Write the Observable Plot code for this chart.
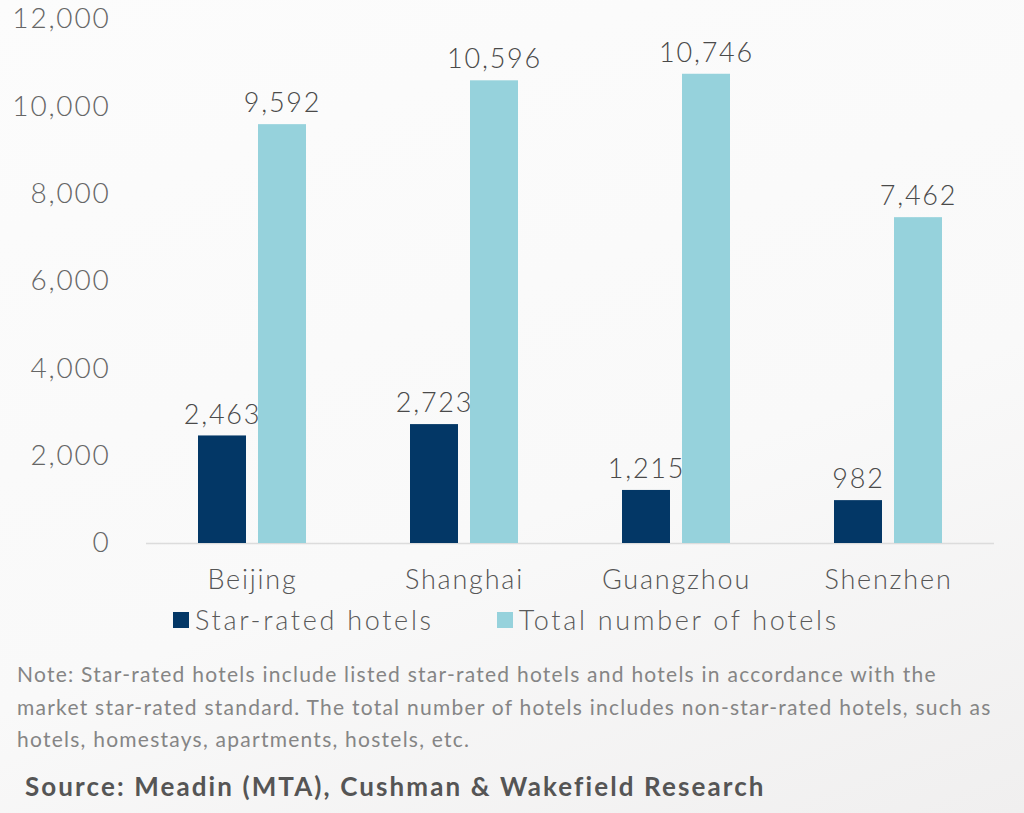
<!DOCTYPE html>
<html>
<head>
<meta charset="utf-8">
<script src="https://cdn.jsdelivr.net/npm/d3@7"></script>
<script src="https://cdn.jsdelivr.net/npm/@observablehq/plot@0.6"></script>
<style>
  html, body { margin: 0; padding: 0; }
  body {
    width: 1024px; height: 813px; overflow: hidden;
    background: linear-gradient(160deg, #fcfcfc 0%, #f9f9f9 60%, #f0efef 100%);
    font-family: Lato, "Open Sans", sans-serif;
  }
  #chart svg { display: block; background: transparent; }
  .legend { position: absolute; top: 603px; left: 173px; font-size: 27px; font-weight: 300; letter-spacing: 2.7px; color: #5a5a5a; display: flex; align-items: center; }
  .legend .item { display: flex; align-items: center; margin-right: 63px; }
  .legend .sw { width: 16px; height: 16px; margin-right: 6px; }
  .note { position: absolute; top: 658px; left: 17px; width: 1000px; font-size: 21px; line-height: 32.5px; letter-spacing: 1.25px; color: #858585; white-space: nowrap; }
  .source { position: absolute; top: 770px; left: 25px; font-size: 26px; font-weight: bold; letter-spacing: 2.1px; color: #555; }
</style>
</head>
<body>
<div id="chart"></div>
<div class="legend" id="legend"></div>
<div class="note">Note: Star-rated hotels include listed star-rated hotels and hotels in accordance with the<br>market star-rated standard. The total number of hotels includes non-star-rated hotels, such as<br>hotels, homestays, apartments, hostels, etc.</div>
<div class="source">Source: Meadin (MTA), Cushman &amp; Wakefield Research</div>
<script>
const cities = ["Beijing", "Shanghai", "Guangzhou", "Shenzhen"];
const series = ["Star-rated hotels", "Total number of hotels"];
const starRated = [2463, 2723, 1215, 982];
const totalHotels = [9592, 10596, 10746, 7462];
const colors = ["#033766", "#96d2dc"];
const yTicks = [0, 2000, 4000, 6000, 8000, 10000, 12000];

const data = [];
cities.forEach((c, i) => {
  data.push({city: c, series: series[0], value: starRated[i]});
  data.push({city: c, series: series[1], value: totalHotels[i]});
});

const chart = Plot.plot({
  width: 1024,
  height: 600,
  marginLeft: 146,
  marginRight: 30,
  marginTop: 19,
  marginBottom: 57,
  style: {fontFamily: "Lato, 'Open Sans', sans-serif", fontSize: "27px", fontWeight: 300, letterSpacing: "1.8px", color: "#666", background: "transparent"},
  fx: {domain: cities, padding: 0, label: null},
  x: {domain: series, axis: null, paddingInner: 0.207, paddingOuter: 0.855},
  y: {domain: [0, 12000], ticks: yTicks, tickFormat: d3.format(","), label: null},
  color: {domain: series, range: colors},
  marks: [
    Plot.axisY({ticks: yTicks, tickFormat: d3.format(","), tickSize: 0, tickPadding: 36, label: null, fill: "#666", fontSize: 28}),
    Plot.axisFx({anchor: "bottom", tickSize: 0, tickPadding: 26, label: null, fill: "#555", fontSize: 27}),
    Plot.ruleY([0], {stroke: "#dcdcdc", strokeWidth: 1.5}),
    Plot.barY(data, {fx: "city", x: "series", y: "value", fill: "series"}),
    Plot.text(data, {fx: "city", x: "series", y: "value", text: d => d3.format(",")(d.value), dy: -21, fill: "#4a4a4a", fontSize: 27})
  ]
});
document.getElementById("chart").appendChild(chart);

const legend = document.getElementById("legend");
series.forEach((s, i) => {
  const item = document.createElement("div");
  item.className = "item";
  const sw = document.createElement("span");
  sw.className = "sw";
  sw.style.background = colors[i];
  const t = document.createElement("span");
  t.textContent = s;
  item.appendChild(sw);
  item.appendChild(t);
  legend.appendChild(item);
});
</script>
</body>
</html>
